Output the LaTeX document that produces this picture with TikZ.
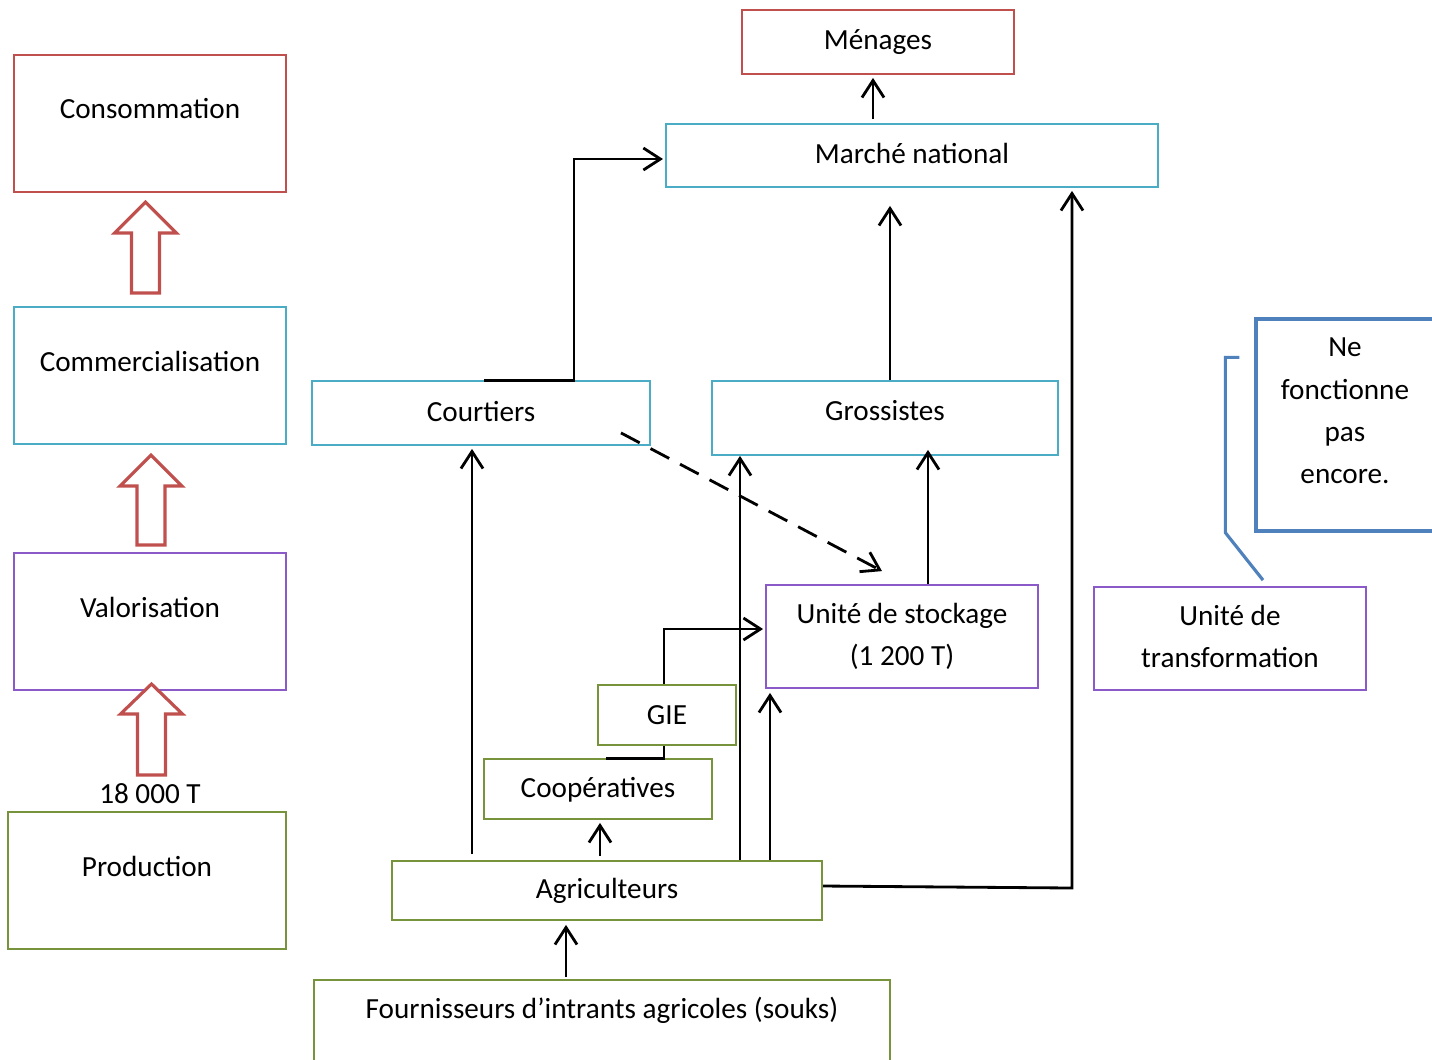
\documentclass[tikz,border=0pt]{standalone}
\usepackage{fontspec}
\setmainfont{Carlito}
\usetikzlibrary{arrows.meta,calc}
\definecolor{boxred}{RGB}{192,80,77}
\definecolor{boxcyan}{RGB}{75,172,198}
\definecolor{boxpurple}{RGB}{140,90,200}
\definecolor{boxgreen}{RGB}{119,147,60}
\definecolor{noteblue}{RGB}{79,129,189}

% hollow upward block arrow: centre x, tip y, head base y, tail y
\newcommand\upblock[4]{%
  \draw[bigarrow] (#1,#2) -- (#1+31,#3) -- (#1+14,#3) -- (#1+14,#4)
    -- (#1-14,#4) -- (#1-14,#3) -- (#1-31,#3) -- cycle;}

\begin{document}
\begin{tikzpicture}[x=0.01cm,y=-0.01cm,
  every node/.style={font=\fontsize{8.3}{12}\selectfont},
  box/.style={draw,line width=0.5pt,inner sep=0pt,align=center},
  flow/.style={line width=0.8pt,-{Straight Barb[length=1.7mm,width=2.2mm]}},
  link/.style={line width=0.8pt},
  bigarrow/.style={draw=boxred,fill=white,line width=0.9pt,line join=miter}]
\useasboundingbox (0,0) rectangle (1432,1059);
\clip (0,0) rectangle (1432,1059);

% ---- stages of the chain (left column)
\node[box,draw=boxred,minimum width=2.72cm,minimum height=1.37cm] (cons) at (150,123.5) {};
\node (cons-t) at (150,108) {Consommation};
\node[box,draw=boxcyan,minimum width=2.72cm,minimum height=1.37cm] (comm) at (150,375.5) {};
\node (comm-t) at (150,361) {Commercialisation};
\node[box,draw=boxpurple,minimum width=2.72cm,minimum height=1.37cm] (valo) at (150,621.5) {};
\node (valo-t) at (150,607) {Valorisation};
\node[box,draw=boxgreen,minimum width=2.78cm,minimum height=1.37cm] (prod) at (147,880.5) {};
\node (prod-t) at (147,866) {Production};
\node (qty) at (150,794) {18 000 T};

\upblock{145.5}{202}{233}{293}
\upblock{151}{455}{486}{545}
\upblock{151.5}{684}{714}{775}

% ---- actors
\node[box,draw=boxred,minimum width=2.72cm,minimum height=0.64cm] (menages) at (878,42) {Ménages};
\node[box,draw=boxcyan,minimum width=4.92cm,minimum height=0.63cm] (marche) at (912,155.5) {};
\node (marche-t) at (912,153) {Marché national};
\node[box,draw=boxcyan,minimum width=3.38cm,minimum height=0.64cm] (court) at (481,413) {};
\node (court-t) at (481,411) {Courtiers};
\node[box,draw=boxcyan,minimum width=3.46cm,minimum height=0.74cm] (gross) at (885,418) {};
\node (gross-t) at (885,411) {Grossistes};
\node[box,draw=boxpurple,minimum width=2.72cm,minimum height=1.03cm] (stock) at (902,636.5) {Unité de stockage\\(1 200 T)};
\node[box,draw=boxpurple,minimum width=2.72cm,minimum height=1.03cm] (transf) at (1230,638.5) {};
\node[align=center] (transf-t) at (1230,636.5) {Unité de\\transformation};
\node[box,draw=boxgreen,minimum width=1.38cm,minimum height=0.60cm] (gie) at (667,715) {GIE};
\node[box,draw=boxgreen,minimum width=2.28cm,minimum height=0.60cm] (coop) at (598,789) {};
\node (coop-t) at (598,790) {Coopératives};
\node[box,draw=boxgreen,minimum width=4.30cm,minimum height=0.59cm] (agri) at (607,890.5) {Agriculteurs};
\node[box,draw=boxgreen,minimum width=5.76cm,minimum height=1.00cm] (fourn) at (602,1030) {};
\node (fourn-t) at (602,1010) {Fournisseurs d’intrants agricoles (souks)};

% ---- callout note
\node[draw=noteblue,line width=0.9pt,minimum width=1.80cm,minimum height=2.12cm,inner sep=0pt] (note) at (1346,425) {};
\node[align=center] (note-t) at (1345,411) {Ne\\fonctionne\\pas\\encore.};
\draw[noteblue,line width=0.9pt]
  ($(note.north west)+(-15,40)$) -- ($(note.north west)+(-29,40)$)
  -- ($(note.south west)+(-29,0)$) -- ($(transf.north)+(33,-6)$);

% ---- flows
\draw[flow,shorten <=0.04cm,shorten >=0.03cm] (873,0 |- marche.north) -- (873,0 |- menages.south);
\draw[flow] (484,0 |- court.north) -| ($(marche.west)+(-91,3.5)$) -- ($(marche.west)+(-2,3.5)$);
\draw[flow,shorten >=0.18cm] (890,0 |- gross.north) -- (890,0 |- marche.south);
\draw[flow,shorten >=0.03cm] ($(agri.east)+(0,-4.5)$) -- (1072,888) -- (1072,0 |- marche.south);
\draw[flow,shorten <=0.06cm,shorten >=0.03cm] (472,0 |- agri.north) -- (472,0 |- court.south);
\draw[flow] (740,0 |- agri.north) -- (740,0 |- gross.south);
\draw[flow,shorten >=0.04cm] (770,0 |- agri.north) -- (770,0 |- stock.south);
\draw[flow,shorten <=0.04cm,shorten >=0.03cm] (600,0 |- agri.north) -- (600,0 |- coop.south);
\draw[link] (606,0 |- coop.north) -| (664,0 |- gie.south);
\draw[flow] (664,0 |- gie.north) |- ($(stock.west)+(-2,-7.5)$);
\draw[flow,shorten >=-0.06cm] (928,0 |- stock.north) -- (928,0 |- gross.south);
\draw[flow,shorten <=0.02cm,shorten >=0.04cm] (566,0 |- fourn.north) -- (566,0 |- agri.south);
\draw[flow,dashed,dash pattern=on 6pt off 3.5pt]
  ($(court.south east)+(-30,-13)$) -- ($(stock.north)+(-20,-13)$);
\end{tikzpicture}
\end{document}
